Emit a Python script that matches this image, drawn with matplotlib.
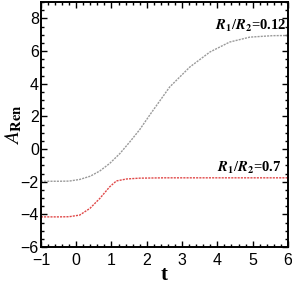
import matplotlib
matplotlib.use('Agg')
import matplotlib.pyplot as plt
from matplotlib.ticker import MultipleLocator

# curve for R1/R2 = 0.12 (grey)
t_012 = [-1, -0.5, -0.2, 0.1, 0.4, 0.67, 0.95, 1.24, 1.52, 1.8, 2.09,
         2.65, 3.22, 3.79, 4.35, 4.92, 5.57, 6]
a_012 = [-1.97, -1.97, -1.96, -1.86, -1.66, -1.34, -0.88, -0.27, 0.44,
         1.19, 2.1, 3.8, 5.02, 5.94, 6.55, 6.85, 6.94, 6.95]

# curve for R1/R2 = 0.7 (red)
t_07 = [-1, -0.5, -0.2, 0.1, 0.39, 0.67, 0.95, 1.14, 1.43, 1.8, 2.5, 6]
a_07 = [-4.15, -4.15, -4.14, -4.04, -3.63, -3.02, -2.31, -1.95, -1.83,
        -1.78, -1.76, -1.76]

plt.rcParams['mathtext.fontset'] = 'stix'
plt.rcParams['font.family'] = ['Liberation Sans', 'DejaVu Sans']

fig = plt.figure(figsize=(2.92, 2.87), dpi=100)
ax = fig.add_axes([0.140, 0.139, 0.846, 0.854])

ax.plot(t_012, a_012, color='#9a9a9a', lw=1.0, ls=(0, (1.5, 0.8)))
ax.plot(t_07, a_07, color='#e04848', lw=1.0, ls=(0, (1.5, 0.8)))

ax.set_xlim(-1, 6)
ax.set_ylim(-6, 9)
ax.xaxis.set_major_locator(MultipleLocator(1))
ax.xaxis.set_minor_locator(MultipleLocator(0.2))
ax.yaxis.set_major_locator(MultipleLocator(2))
ax.yaxis.set_minor_locator(MultipleLocator(0.5))
ax.tick_params(which='both', direction='in', top=True, right=True,
               labelsize=11.5, width=1.0)
ax.tick_params(axis='x', pad=4)
ax.tick_params(axis='y', pad=1.5)
ax.tick_params(which='major', length=4)
ax.tick_params(which='minor', length=2)
for spine in ax.spines.values():
    spine.set_linewidth(1.4)

ax.set_xlabel('t', family='Liberation Serif', fontweight='bold',
              fontsize=15, labelpad=-2)
ax.set_ylabel(r'$\mathit{A}_{\mathbf{Ren}}$', fontsize=15)
ax.yaxis.set_label_coords(-0.07, 0.5)

ax.text(5.95, 7.05, r'$\mathbfit{R}_\mathbf{1}/\mathbfit{R}_\mathbf{2}$=0.12',
        family='Liberation Serif', fontweight='bold', fontsize=10.5,
        ha='right', va='bottom')
ax.text(5.82, -1.66, r'$\mathbfit{R}_\mathbf{1}/\mathbfit{R}_\mathbf{2}$=0.7',
        family='Liberation Serif', fontweight='bold', fontsize=10.5,
        ha='right', va='bottom')

fig.savefig('out.png', dpi=100)
